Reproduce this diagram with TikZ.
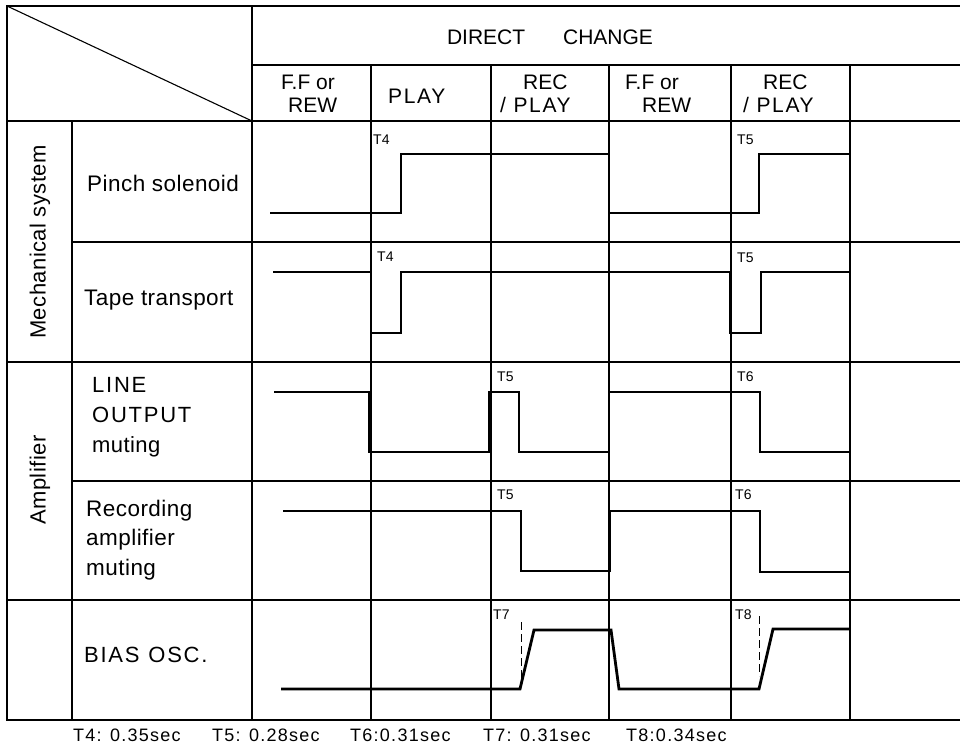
\documentclass[tikz,border=0pt]{standalone}
\usepackage{fontspec}
\setmainfont{Liberation Sans}
\newfontfamily\capfont[LetterSpace=8]{Liberation Sans}
\newfontfamily\lowfont[LetterSpace=2]{Liberation Sans}
\newfontfamily\notefont[LetterSpace=7]{Liberation Sans}
\begin{document}
\begin{tikzpicture}[x=1pt,y=-1pt,
  gridline/.style={line width=1.1pt},
  frame/.style={line width=2.2pt},
  wave/.style={line width=2.8pt,line join=miter},
  guide/.style={line width=0.9pt,dash pattern=on 8pt off 4pt},
  rowlbl/.style={font=\lowfont\fontsize{22.5}{29.5}\selectfont,align=left,anchor=west,inner sep=0pt},
  hdr/.style={font=\fontsize{21}{23}\selectfont,align=left,anchor=west,inner sep=0pt},
  grp/.style={font=\lowfont\fontsize{22}{24}\selectfont,rotate=90,inner sep=0pt},
  tlbl/.style={font=\fontsize{14}{15}\selectfont,anchor=west,inner sep=0pt},
  note/.style={font=\notefont\fontsize{18}{20}\selectfont,anchor=west,inner sep=0pt}]
\useasboundingbox (0,0) rectangle (960,746);
\fill[white] (0,0) rectangle (960,746);
% grid
\draw[gridline] (252,65) -- (960,65);
\draw[gridline] (7,121) -- (960,121);
\draw[gridline] (72,242) -- (960,242);
\draw[gridline] (7,362) -- (960,362);
\draw[gridline] (72,481) -- (960,481);
\draw[gridline] (7,600) -- (960,600);
\draw[gridline] (72,121) -- (72,720);
\draw[gridline] (252,6) -- (252,720);
\foreach \cx in {371,491,609,731,850} \draw[gridline] (\cx,65) -- (\cx,720);
\draw[gridline] (7,6) -- (252,121);
\draw[frame] (960,6) -- (7,6) -- (7,720) -- (960,720);
% header
\node[hdr,anchor=center] (dc) at (550,37) {DIRECT\hspace{38pt}CHANGE};
\node[hdr] (c1) at (281,94) {F.F or\\\hspace{7pt}REW};
\node[hdr] (c2) at (388,96) {{\capfont PLAY}};
\node[hdr] (c3) at (500,94) {\hspace{23pt}REC\\{\capfont/ PLAY}};
\node[hdr] (c4) at (625,94) {F.F or\\\hspace{17pt}REW};
\node[hdr] (c5) at (743,94) {\hspace{20pt}REC\\{\capfont/ PLAY}};
% group labels
\node[grp] (g1) at (40,242) {Mechanical system};
\node[grp] (g2) at (40,480) {Amplifier};
% row labels
\node[rowlbl] (r1) at (87,183) {Pinch solenoid};
\node[rowlbl] (r2) at (84,300) {Tape transport};
\node[rowlbl,font=\capfont\fontsize{22}{30}\selectfont] (r3) at (92,417) {LINE\\OUTPUT\\{\lowfont muting}};
\node[rowlbl] (r4) at (86,540) {Recording\\amplifier\\muting};
\node[rowlbl,font=\capfont\fontsize{22}{24}\selectfont] (r5) at (84,655) {BIAS\hspace{0.4em}OSC.};
% waveforms
\draw[wave] (270,213) -- (401,213) -- (401,154) -- (609,154) -- (609,213) -- (759,213) -- (759,154) -- (850,154);
\draw[wave] (273,272) -- (371,272) -- (371,333) -- (401,333) -- (401,272) -- (730,272) -- (730,333) -- (761,333) -- (761,272) -- (850,272);
\draw[wave] (274,392) -- (369,392) -- (369,452) -- (489,452) -- (489,392) -- (519,392) -- (519,452) -- (609,452) -- (609,392) -- (760,392) -- (760,452) -- (850,452);
\draw[wave] (283,511) -- (521,511) -- (521,571) -- (610,571) -- (610,511) -- (760,511) -- (760,572) -- (849,572);
\draw[wave] (281,689) -- (520,689) -- (534,630) -- (611,630) -- (619,689) -- (759,689) -- (773,629) -- (849,629);
\draw[guide] (521,622) -- (521,678);
\draw[guide] (759,616) -- (759,676);
% timing labels
\node[tlbl] (a1) at (373,140) {T4};
\node[tlbl] (a2) at (737,140) {T5};
\node[tlbl] (b1) at (377,257) {T4};
\node[tlbl] (b2) at (737,258) {T5};
\node[tlbl] (d1) at (497,377) {T5};
\node[tlbl] (d2) at (737,377) {T6};
\node[tlbl] (e1) at (497,495) {T5};
\node[tlbl] (e2) at (735,495) {T6};
\node[tlbl] (f1) at (493,615) {T7};
\node[tlbl] (f2) at (735,615) {T8};
% notes
\node[note] (n1) at (73,735) {T4: 0.35sec};
\node[note] (n2) at (212,735) {T5: 0.28sec};
\node[note] (n3) at (350,735) {T6:0.31sec};
\node[note] (n4) at (483,735) {T7: 0.31sec};
\node[note] (n5) at (626,735) {T8:0.34sec};
\end{tikzpicture}
\end{document}
